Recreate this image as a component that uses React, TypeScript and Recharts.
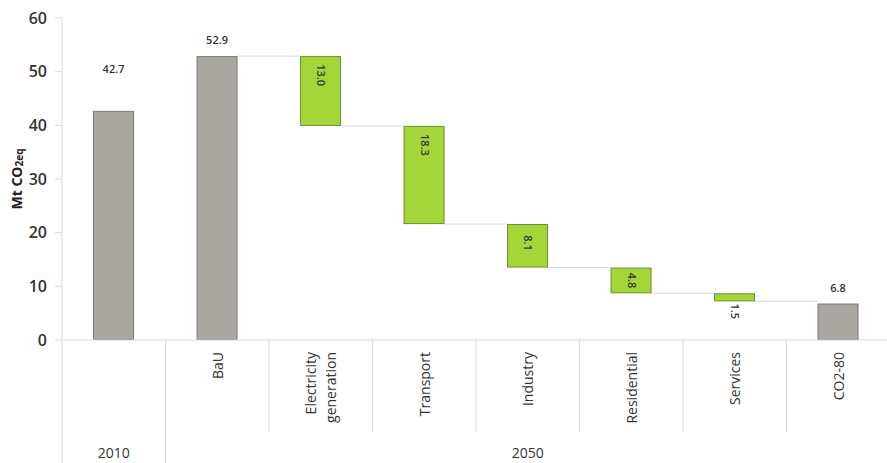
import { BarChart, Bar, XAxis, YAxis } from 'recharts'

const categories = ['2010', 'BaU', 'Electricity generation', 'Transport', 'Industry', 'Residential', 'Services', 'CO2-80']
const tickLines = [[], ['BaU'], ['Electricity', 'generation'], ['Transport'], ['Industry'], ['Residential'], ['Services'], ['CO2-80']]
const totals = [42.7, 52.9, null, null, null, null, null, 6.8]
const reductions = [null, null, 13.0, 18.3, 8.1, 4.8, 1.5, null]
const groups = [
  { label: '2010', from: 0, to: 0 },
  { label: '2050', from: 1, to: 7 },
]
const yTicks = [0, 10, 20, 30, 40, 50, 60]

const CHART_W = 895
const CHART_H = 463
const AXIS_W = 62
const MARGIN = { top: 18, right: 5, left: 0, bottom: 0 }
const XAXIS_H = 123
const BAND = (CHART_W - AXIS_W - MARGIN.left - MARGIN.right) / categories.length

const GRAY = '#aaa6a2'
const GRAY_EDGE = '#7d7a77'
const GREEN = '#a4d63a'
const GREEN_EDGE = '#6c8f2b'
const LINE = '#d9d9d9'
const TEXT = '#333333'
const FONT = '"Open Sans", "DejaVu Sans", sans-serif'

type Row = { name: string; base: number; value: number; kind: 'total' | 'step'; idx: number }

// running level gives each reduction its floating base
const data: Row[] = []
let level = 0
categories.forEach((name, i) => {
  const t = totals[i]
  if (t != null) {
    data.push({ name, base: 0, value: t, kind: 'total', idx: i })
    level = t
  } else {
    const r = reductions[i] as number
    data.push({ name, base: +(level - r).toFixed(1), value: r, kind: 'step', idx: i })
    level = level - r
  }
})

function WaterfallBar(props: any) {
  const { x, y, width, height, payload } = props
  const row = payload as Row
  const next = data[row.idx + 1]
  const isTotal = row.kind === 'total'

  let connectorY: number | null = null
  if (next && (row.kind === 'step' || next.kind === 'step')) {
    connectorY = isTotal ? y : y + height
  }

  const label = row.value.toFixed(1)
  let labelEl = null
  if (isTotal) {
    const lift = row.idx === 0 ? 38 : 12
    labelEl = (
      <text x={x + width / 2} y={y - lift} textAnchor="middle" fontSize={11} fontWeight={600} fill={TEXT} fontFamily={FONT}>
        {label}
      </text>
    )
  } else {
    const cx = x + width / 2 + 1
    const cy = height < 14 ? y + height + 10 : y + Math.min(19, height / 2)
    labelEl = (
      <text
        x={cx}
        y={cy}
        transform={`rotate(90, ${cx}, ${cy})`}
        textAnchor="middle"
        dominantBaseline="central"
        fontSize={11}
        fontWeight={600}
        fill={TEXT}
        fontFamily={FONT}
      >
        {label}
      </text>
    )
  }

  return (
    <g>
      {connectorY != null && (
        <line x1={x + width} x2={x + BAND} y1={connectorY} y2={connectorY} stroke={LINE} strokeWidth={1} />
      )}
      <rect
        x={x + 0.5}
        y={y + 0.5}
        width={width - 1}
        height={Math.max(height - 1, 0)}
        fill={isTotal ? GRAY : GREEN}
        stroke={isTotal ? GRAY_EDGE : GREEN_EDGE}
        strokeWidth={1}
      />
      {labelEl}
    </g>
  )
}

function CategoryTick(props: any) {
  const { x, y, index } = props
  const lines = tickLines[index] ?? []
  const left = x - BAND / 2
  const group = groups.find((g) => g.from === index)
  const tall = index === 0 || index === 1
  return (
    <g>
      <line x1={left} x2={left} y1={y} y2={tall ? CHART_H : y + 92} stroke={LINE} strokeWidth={1} />
      {lines.map((t, k) => {
        const lx = x + (k - (lines.length - 1) / 2) * 20
        const ly = y + 12
        return (
          <text
            key={k}
            x={lx}
            y={ly}
            transform={`rotate(-90, ${lx}, ${ly})`}
            textAnchor="end"
            dominantBaseline="central"
            fontSize={14}
            fill={TEXT}
            fontFamily={FONT}
          >
            {t}
          </text>
        )
      })}
      {group && (
        <text
          x={x + ((group.to - group.from) / 2) * BAND}
          y={y + 112}
          textAnchor="middle"
          dominantBaseline="central"
          fontSize={14}
          fill={TEXT}
          fontFamily={FONT}
        >
          {group.label}
        </text>
      )}
    </g>
  )
}

function YTitle(props: any) {
  const vb = props.viewBox ?? { y: MARGIN.top, height: 322 }
  const cx = 16
  const cy = vb.y + vb.height / 2
  return (
    <text
      x={cx}
      y={cy}
      transform={`rotate(-90, ${cx}, ${cy})`}
      textAnchor="middle"
      dominantBaseline="central"
      fontSize={14}
      fontWeight="bold"
      fill="#222"
      fontFamily={FONT}
    >
      Mt CO<tspan fontSize={10} dy={3}>2eq</tspan>
    </text>
  )
}

export default function App() {
  return (
    <div style={{ position: 'fixed', left: 0, top: 0, width: 887, height: 463, overflow: 'hidden', background: '#fff' }}>
      <BarChart width={CHART_W} height={CHART_H} data={data} margin={MARGIN} barCategoryGap="30%">
        <XAxis
          dataKey="name"
          interval={0}
          height={XAXIS_H}
          tickLine={false}
          tickSize={0}
          tickMargin={0}
          axisLine={{ stroke: LINE }}
          tick={<CategoryTick />}
        />
        <YAxis
          width={AXIS_W}
          domain={[0, 60]}
          ticks={yTicks}
          allowDataOverflow
          tickSize={7}
          tickMargin={8}
          axisLine={{ stroke: LINE }}
          tickLine={{ stroke: LINE }}
          tick={{ fill: TEXT, fontSize: 16, fontWeight: 600, fontFamily: FONT }}
          label={<YTitle />}
        />
        <Bar dataKey="base" stackId="w" fill="transparent" isAnimationActive={false} />
        <Bar dataKey="value" stackId="w" shape={<WaterfallBar />} isAnimationActive={false} />
      </BarChart>
    </div>
  )
}
